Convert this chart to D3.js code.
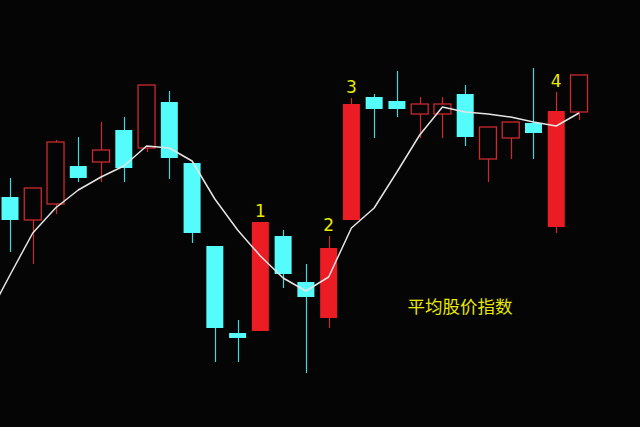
<!DOCTYPE html>
<html>
<head>
<meta charset="utf-8">
<script src="https://cdn.jsdelivr.net/npm/d3@7"></script>
<style>
    html, body { margin: 0; padding: 0; background: #050505; }
    svg { display: block; }
</style>
</head>
<body>
<svg id="chart"></svg>
<script>
// candle values, one entry per day
const opens  = [3406, 3360, 3392, 3468, 3476, 3540, 3504, 3596, 3474, 3308, 3134, 3138, 3328,
                3236, 3164, 3360, 3606, 3598, 3572, 3572, 3612, 3482, 3524, 3554, 3346, 3576]
const closes = [3360, 3424, 3516, 3444, 3500, 3464, 3630, 3484, 3334, 3144, 3124, 3356, 3252,
                3206, 3304, 3592, 3582, 3582, 3592, 3592, 3526, 3546, 3556, 3534, 3578, 3650]
const highs  = [3444, 3424, 3520, 3526, 3556, 3566, 3630, 3618, 3474, 3308, 3160, 3356, 3340,
                3272, 3328, 3604, 3612, 3658, 3606, 3606, 3630, 3546, 3556, 3664, 3616, 3650]
const lows   = [3296, 3272, 3372, 3436, 3436, 3436, 3496, 3442, 3314, 3076, 3076, 3138, 3224,
                3054, 3144, 3360, 3524, 3566, 3524, 3524, 3508, 3436, 3482, 3482, 3334, 3560]

// moving average, first value belongs to the day before the window
const maPrev = 3164
const maValues = [3250, 3334, 3384, 3420, 3446, 3468, 3508, 3504, 3478, 3402, 3340, 3288, 3244,
                  3218, 3246, 3344, 3384, 3456, 3530, 3586, 3576, 3572, 3566, 3556, 3548, 3574]

// marked days (filled red) and their labels
const marks = [11, 14, 15, 24]
const markLabels = ["1", "2", "3", "4"]

const title = "平均股价指数"

const width = 640
const height = 427

const colors = {
    down: "#54fcfc",
    downWick: "#44d8d8",
    up: "#cc2a2e",
    upFilled: "#ec1c24",
    ma: "#e4e4e4",
    text: "#e8e800",
}

const svg = d3.select("#chart")
    .attr("width", width)
    .attr("height", height)

svg.append("rect")
    .attr("width", width)
    .attr("height", height)
    .attr("fill", "#050505")

const x = d3.scaleLinear().domain([0, 25]).range([10, 579])
const y = d3.scaleLinear().domain([2946, 3800]).range([height, 0])
const bodyWidth = 17

const candles = opens.map((o, i) => ({
    i,
    open: o,
    close: closes[i],
    high: highs[i],
    low: lows[i],
    up: closes[i] > o,
    filled: marks.includes(i),
}))

const wicks = svg.append("g")
const bodies = svg.append("g")

wicks.selectAll("line")
    .data(candles)
    .join("line")
    .attr("x1", d => Math.round(x(d.i)) + 0.5)
    .attr("x2", d => Math.round(x(d.i)) + 0.5)
    .attr("y1", d => y(d.high))
    .attr("y2", d => y(d.low))
    .attr("stroke", d => d.up ? colors.up : colors.downWick)
    .attr("stroke-width", 1.2)

bodies.selectAll("rect")
    .data(candles)
    .join("rect")
    .attr("x", d => x(d.i) - bodyWidth / 2)
    .attr("width", bodyWidth)
    .attr("y", d => y(Math.max(d.open, d.close)))
    .attr("height", d => Math.max(1, Math.abs(y(d.open) - y(d.close))))
    .attr("fill", d => !d.up ? colors.down : (d.filled ? colors.upFilled : "#050505"))
    .attr("stroke", d => d.up && !d.filled ? colors.up : "none")
    .attr("stroke-width", 1.3)

// moving average line
const maPoints = [[-1, maPrev]].concat(maValues.map((v, i) => [i, v]))

svg.append("path")
    .datum(maPoints)
    .attr("fill", "none")
    .attr("stroke", colors.ma)
    .attr("stroke-width", 1.5)
    .attr("stroke-linejoin", "round")
    .attr("d", d3.line().x(d => x(d[0])).y(d => y(d[1])))

// number labels over the marked candles
svg.append("g")
    .selectAll("text")
    .data(marks)
    .join("text")
    .attr("x", d => x(d))
    .attr("y", d => y(highs[d]) - 5)
    .attr("text-anchor", "middle")
    .attr("fill", colors.text)
    .attr("font-family", "'DejaVu Sans', sans-serif")
    .attr("font-size", 17)
    .text((d, i) => markLabels[i])

svg.append("text")
    .attr("x", 460)
    .attr("y", 313)
    .attr("text-anchor", "middle")
    .attr("fill", colors.text)
    .attr("font-family", "'Noto Sans CJK SC', sans-serif")
    .attr("font-size", 17.5)
    .text(title)
</script>
</body>
</html>
